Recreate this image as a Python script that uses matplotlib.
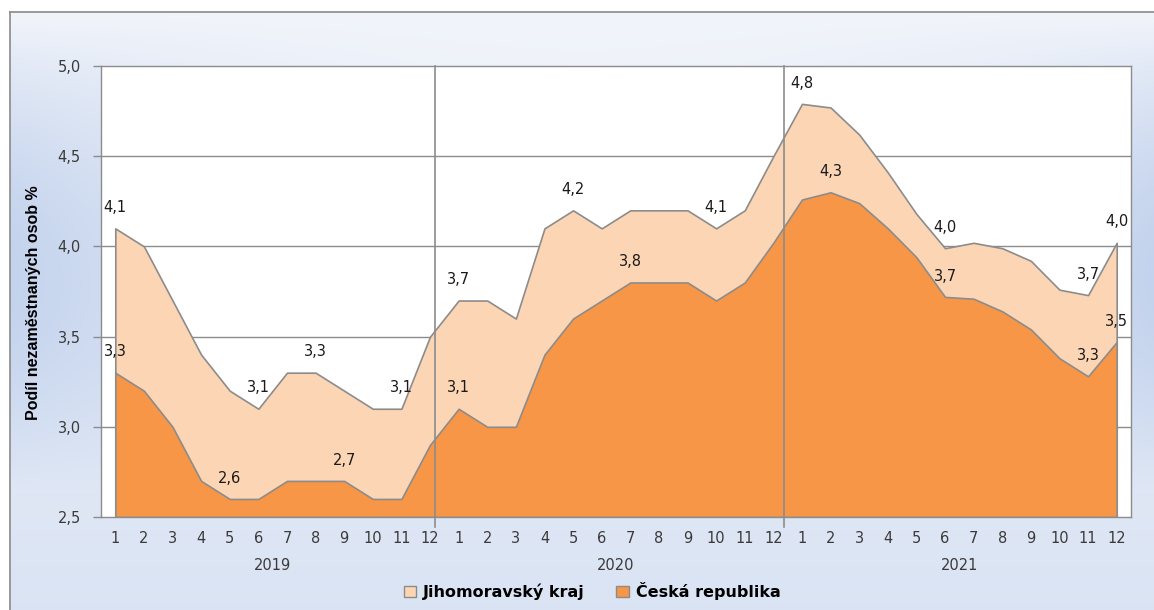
import numpy as np
import matplotlib
matplotlib.use("Agg")
import matplotlib.pyplot as plt
import matplotlib.transforms as mtransforms
from matplotlib.patches import Patch
from matplotlib.lines import Line2D

plt.rcParams["font.family"] = ["DejaVu Sans"]

# ---------------- data ----------------
years = ["2019", "2020", "2021"]
months = [str(m) for m in range(1, 13)] * 3

jmk = [4.1, 4.0, 3.7, 3.4, 3.2, 3.1, 3.3, 3.3, 3.2, 3.1, 3.1, 3.5,
       3.7, 3.7, 3.6, 4.1, 4.2, 4.1, 4.2, 4.2, 4.2, 4.1, 4.2, 4.5,
       4.79, 4.77, 4.62, 4.41, 4.18, 3.99, 4.02, 3.99, 3.92, 3.76, 3.73, 4.02]
cr = [3.3, 3.2, 3.0, 2.7, 2.6, 2.6, 2.7, 2.7, 2.7, 2.6, 2.6, 2.9,
      3.1, 3.0, 3.0, 3.4, 3.6, 3.7, 3.8, 3.8, 3.8, 3.7, 3.8, 4.02,
      4.26, 4.30, 4.24, 4.10, 3.94, 3.72, 3.71, 3.64, 3.54, 3.38, 3.28, 3.47]

jmk_label_idx = [0, 5, 7, 10, 12, 16, 21, 24, 29, 34, 35]
cr_label_idx = [0, 4, 8, 12, 18, 25, 29, 34, 35]

series_names = ["Jihomoravský kraj", "Česká republika"]
y_title = "Podíl nezaměstnaných osob %"
yticks = [2.5, 3.0, 3.5, 4.0, 4.5, 5.0]

# ---------------- style ----------------
C_JMK = "#FCD5B5"
C_CR = "#F79646"
C_EDGE = "#8C8C8C"
C_GRID = "#8C8C8C"
C_TXT = "#3A3A3A"
FS = 10.5

W, H = 1154, 610
fig = plt.figure(figsize=(W / 100, H / 100), dpi=100)
fig.patch.set_facecolor("white")

# background gradient (chart area frame)
x0, y0 = 10, 12
bg = fig.add_axes([x0 / W, 0, 1 - x0 / W, 1 - y0 / H], zorder=-10)
bg.axis("off")
xs = np.linspace(0, 1, 400)
ys = np.linspace(0, 1, 300)
X, Y = np.meshgrid(xs, ys)
h = (np.abs(X - 0.5) * 2) ** 2
bump = np.sin(np.pi * np.clip(Y / 0.8, 0, 1))
t = np.clip(0.5 * Y + 0.8 * h * bump, 0, 1)[..., None]
light = np.array([0.945, 0.957, 0.982])
blue = np.array([0.77, 0.83, 0.93])
img = light * (1 - t) + blue * t
bg.imshow(img, extent=[0, 1, 1, 0], aspect="auto", interpolation="bilinear")
bg.set_xlim(0, 1)
bg.set_ylim(1, 0)

fig.add_artist(Line2D([x0 / W, 1.0], [1 - y0 / H, 1 - y0 / H], color="#8A8A8A", lw=1.2))
fig.add_artist(Line2D([x0 / W, x0 / W], [0, 1 - y0 / H], color="#8A8A8A", lw=1.2))

# main axes
L, R, T, B = 101, 1131, 66, 517
ax = fig.add_axes([L / W, 1 - B / H, (R - L) / W, (B - T) / H])
ax.set_facecolor("white")
xi = np.arange(len(jmk))

ax.set_xlim(-0.5, len(jmk) - 0.5)
ax.set_ylim(2.5, 5.0)

for yv in yticks[1:-1]:
    ax.axhline(yv, color=C_GRID, lw=1.0, zorder=0.5)

ax.fill_between(xi, 2.5, jmk, facecolor=C_JMK, edgecolor=C_EDGE, lw=1.2, zorder=1)
ax.fill_between(xi, 2.5, cr, facecolor=C_CR, edgecolor=C_EDGE, lw=1.2, zorder=2)

# year separators
trans = mtransforms.blended_transform_factory(ax.transData, ax.transAxes)
ext = 10 / (B - T)
for sx in [11.17, 23.37]:
    ax.plot([sx, sx], [-ext, 1.0], transform=trans, color=C_GRID, lw=1.2,
            clip_on=False, zorder=3)

for s in ax.spines.values():
    s.set_color(C_GRID)
    s.set_linewidth(1.0)

ax.set_yticks(yticks)
ax.set_yticklabels([f"{v:.1f}".replace(".", ",") for v in yticks])
ax.tick_params(axis="y", direction="out", length=6, width=1.0, color=C_GRID,
               pad=8.5, labelsize=FS, labelcolor=C_TXT)
ax.set_xticks(xi)
ax.set_xticklabels(months)
ax.tick_params(axis="x", length=0, pad=10, labelsize=FS, labelcolor=C_TXT)

for k, yr in enumerate(years):
    ax.annotate(yr, xy=(k * 12 + 5.5, 0), xycoords=trans, xytext=(0, -48 * 0.72),
                textcoords="offset points", ha="center", va="center",
                fontsize=FS, color=C_TXT)

ax.set_ylabel(y_title, fontsize=11.5, fontweight="bold", family="Liberation Sans",
              color="black")
ax.yaxis.set_label_coords(-(L - 41) / (R - L), 0.475)

def fmt(v):
    return f"{v:.1f}".replace(".", ",")

for i in jmk_label_idx:
    ax.annotate(fmt(jmk[i]), xy=(i, jmk[i]), xytext=(0, 15), textcoords="offset points",
                ha="center", va="center", fontsize=FS, color="#1A1A1A", zorder=5,
                annotation_clip=False)
for i in cr_label_idx:
    ax.annotate(fmt(cr[i]), xy=(i, cr[i]), xytext=(0, 15), textcoords="offset points",
                ha="center", va="center", fontsize=FS, color="#1A1A1A", zorder=5,
                annotation_clip=False)

handles = [Patch(facecolor=C_JMK, edgecolor=C_EDGE, label=series_names[0]),
           Patch(facecolor=C_CR, edgecolor=C_EDGE, label=series_names[1])]
fig.legend(handles=handles, loc="center", bbox_to_anchor=(592 / W, 1 - 591 / H),
           ncol=2, frameon=False, prop={"weight": "bold", "size": 11.5},
           handlelength=0.8, handleheight=0.7, handletextpad=0.4, columnspacing=2.0)

fig.savefig("out.png", dpi=100)
